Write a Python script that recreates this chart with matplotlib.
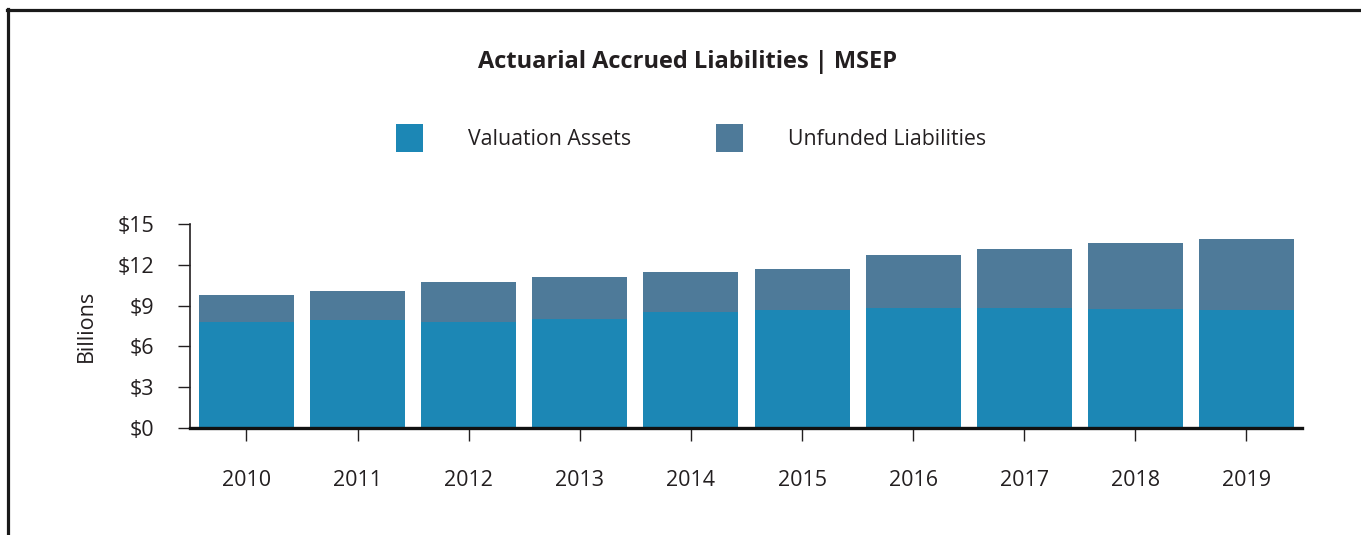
import matplotlib
matplotlib.use('Agg')
import matplotlib.pyplot as plt
from matplotlib.lines import Line2D
import numpy as np

# values (billions)
years = ['2010', '2011', '2012', '2013', '2014', '2015', '2016', '2017', '2018', '2019']
total_liab = [9.78, 10.07, 10.74, 11.10, 11.47, 11.69, 12.72, 13.16, 13.60, 13.90]
assets = [7.79, 7.94, 7.79, 7.99, 8.53, 8.68, 8.82, 8.82, 8.75, 8.68]
unfunded = [t - a for t, a in zip(total_liab, assets)]
ytick_vals = [0, 3, 6, 9, 12, 15]

c_assets = '#1c87b5'
c_unfunded = '#4e7a99'
txt = '#231f20'

plt.rcParams['font.family'] = ['Open Sans', 'DejaVu Sans']

fig = plt.figure(figsize=(13.61, 5.35), dpi=100)
ax = fig.add_axes([190 / 1361, 1 - 428 / 535, 1112 / 1361, 204 / 535])

x = np.arange(len(years))
ax.bar(x, assets, width=0.855, color=c_assets, label='Valuation Assets')
ax.bar(x, unfunded, width=0.855, bottom=assets, color=c_unfunded, label='Unfunded Liabilities')

ax.set_xlim(-0.508, 9.5)
ax.set_ylim(0, 15)
ax.set_xticks(x)
ax.set_xticklabels(years)
ax.set_yticks(ytick_vals)
ax.set_yticklabels([f'${v}' for v in ytick_vals])

for s in ['top', 'right']:
    ax.spines[s].set_visible(False)
ax.spines['left'].set_linewidth(1.2)
ax.spines['left'].set_color(txt)
ax.spines['bottom'].set_linewidth(2.4)
ax.spines['bottom'].set_color('#111111')

ax.tick_params(axis='y', direction='out', length=8.5, width=1.0, color=txt,
               labelsize=15.5, labelcolor=txt, pad=17)
ax.tick_params(axis='x', direction='out', length=9, width=1.0, color=txt,
               labelsize=15.5, labelcolor=txt, pad=21)

ax.set_ylabel('Billions', fontsize=15.5, color=txt)
ax.yaxis.label.set_verticalalignment('center')
ax.yaxis.set_label_coords(-0.0935, 0.5)

fig.text(688 / 1361, 1 - 62 / 535, 'Actuarial Accrued Liabilities | MSEP',
         ha='center', va='center', fontsize=17, fontweight='bold', color=txt)

fs = 15.3
fig.legend(loc='center', bbox_to_anchor=(691 / 1361, 1 - 138 / 535), ncol=2,
           frameon=False, fontsize=fs, labelcolor=txt,
           handlelength=1.27, handleheight=1.58, handletextpad=2.1,
           columnspacing=4.0)

# frame lines at top and left of the picture
fig.add_artist(Line2D([7 / 1361, 1], [1 - 9.5 / 535, 1 - 9.5 / 535], color='#1a1a1a', lw=2.3))
fig.add_artist(Line2D([7.5 / 1361, 7.5 / 1361], [0, 1 - 8.5 / 535], color='#1a1a1a', lw=2.3))

fig.savefig('out.png', dpi=100)
